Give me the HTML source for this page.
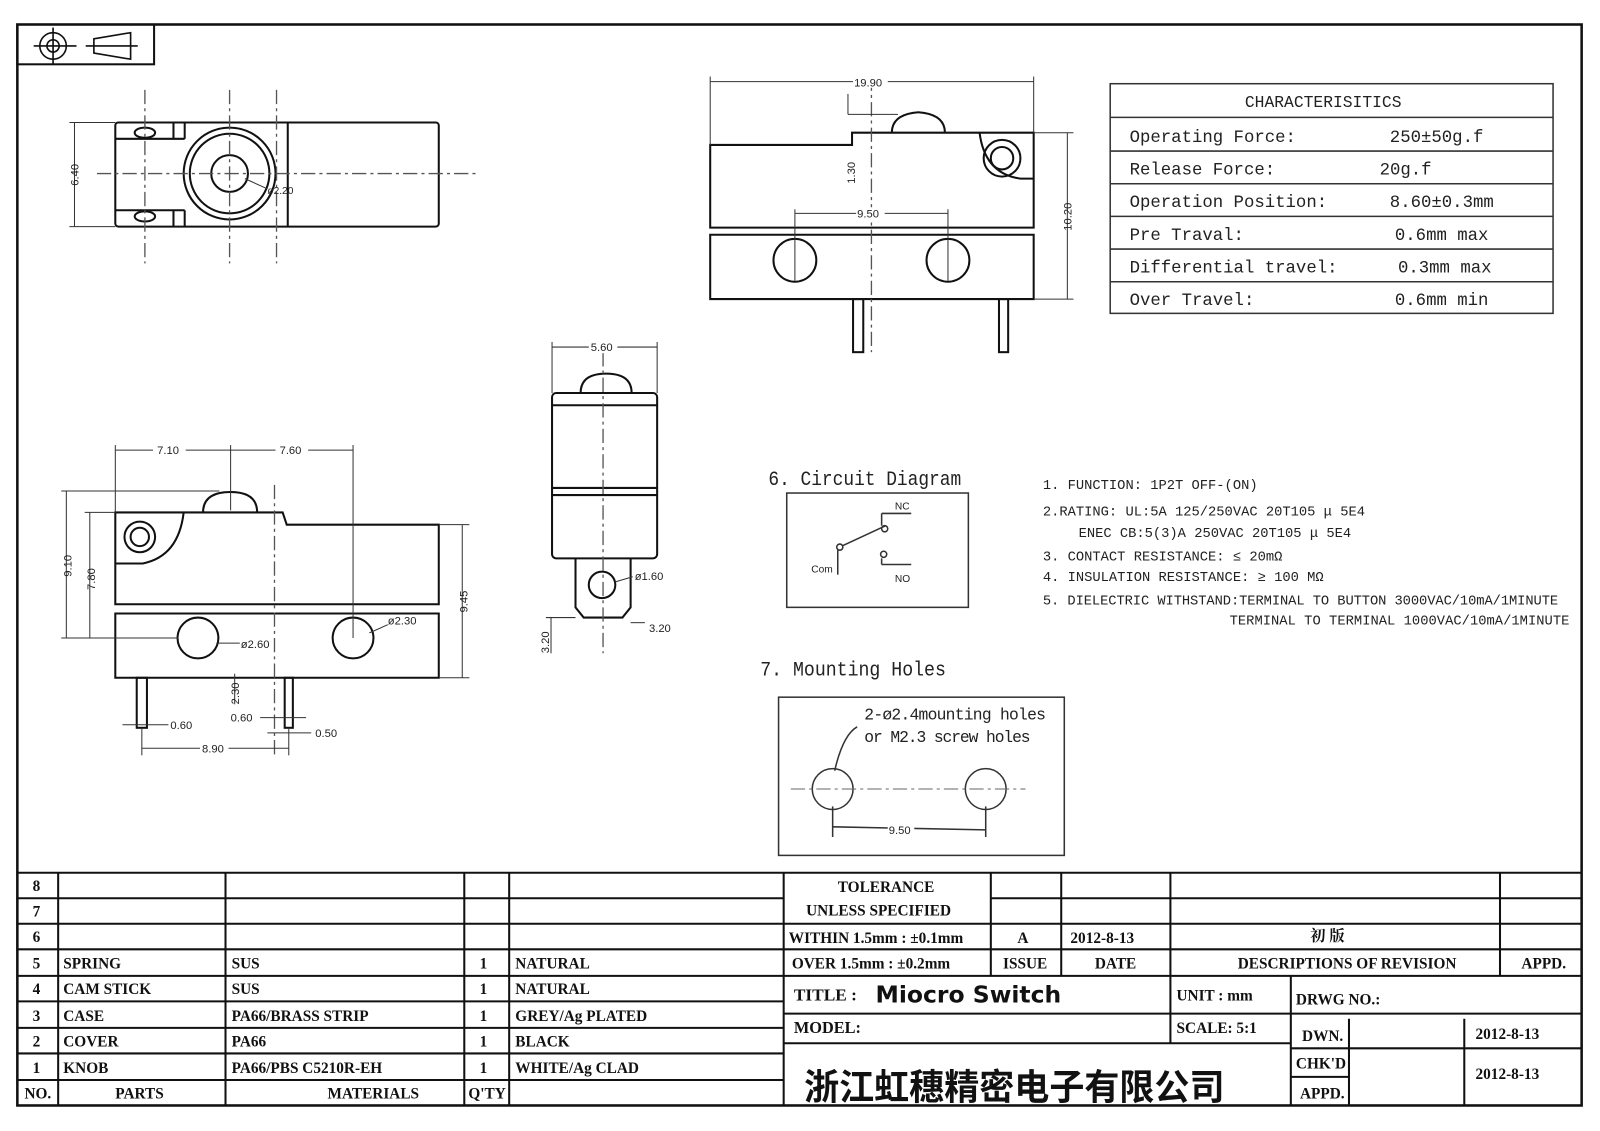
<!DOCTYPE html>
<html><head><meta charset="utf-8"><style>
html,body{margin:0;padding:0;background:#fff;}
svg{display:block;}
.t{font-family:"Liberation Serif","Noto Serif CJK SC",serif;font-weight:bold;fill:#111;}
.s{font-family:"Liberation Sans",sans-serif;fill:#222;}
.m{font-family:"Liberation Mono",monospace;fill:#222;}
</style></head><body>
<svg width="1600" height="1131" viewBox="0 0 1568 1108" preserveAspectRatio="none" xmlns="http://www.w3.org/2000/svg">
<rect width="1568" height="1108" fill="#fff"/>
<g fill="none" stroke="#111" stroke-width="2">
<rect x="17" y="24" width="1533" height="1059" stroke-width="2.5"/>
<rect x="17" y="24" width="134" height="39"/>
</g>
<g fill="none" stroke="#111" stroke-width="1.6">
<circle cx="52" cy="45" r="13"/><circle cx="52" cy="45" r="6"/>
<line x1="33" y1="45" x2="75" y2="45"/><line x1="52" y1="27" x2="52" y2="63"/>
<path d="M92 38 L128 32 L128 58 L92 52 Z"/><line x1="84" y1="45" x2="135" y2="45"/>
</g>

<!-- TOP VIEW -->
<g fill="none" stroke="#111" stroke-width="2">
<rect x="113" y="120" width="317" height="102" rx="3"/>
<line x1="282" y1="120" x2="282" y2="222"/>
<line x1="181" y1="120" x2="181" y2="136"/><line x1="113" y1="136" x2="181" y2="136"/>
<line x1="181" y1="206" x2="181" y2="222"/><line x1="113" y1="206" x2="181" y2="206"/>
<line x1="170" y1="120" x2="170" y2="136"/><line x1="170" y1="206" x2="170" y2="222"/>
<ellipse cx="142" cy="130" rx="10" ry="5"/><ellipse cx="142" cy="212" rx="10" ry="5"/>
<circle cx="225" cy="170" r="45"/><circle cx="225" cy="170" r="39"/><circle cx="225" cy="170" r="18"/>
</g>
<g stroke="#555" stroke-width="1.3" stroke-dasharray="14,4,3,4" fill="none">
<line x1="95" y1="170" x2="470" y2="170"/>
<line x1="142" y1="88" x2="142" y2="258"/><line x1="225" y1="88" x2="225" y2="258"/><line x1="271" y1="88" x2="271" y2="258"/>
</g>
<g stroke="#333" stroke-width="1" fill="none">
<line x1="73" y1="120" x2="73" y2="222"/><line x1="68" y1="120" x2="113" y2="120"/><line x1="68" y1="222" x2="113" y2="222"/>
<line x1="240" y1="175" x2="262" y2="185"/>
</g>
<text class="s" font-size="11" transform="translate(77,182) rotate(-90)">6.40</text>
<text class="s" font-size="10" x="262" y="190">ø2.20</text>

<!-- FRONT VIEW TOP RIGHT -->
<g fill="none" stroke="#111" stroke-width="2">
<path d="M696 142 L835 142 L835 130 L1013 130 L1013 223 L696 223 Z"/>
<path d="M696 230 L1013 230 L1013 293 L696 293 Z"/>
<path d="M874 130 Q874 112 900 110 Q926 112 926 130"/>
<circle cx="982" cy="155" r="18"/><circle cx="982" cy="155" r="11"/>
<path d="M960 130 Q965 170 1000 175 L1013 175"/>
<circle cx="779" cy="255" r="21"/><circle cx="929" cy="255" r="21"/>
<rect x="836" y="293" width="10" height="52"/><rect x="979" y="293" width="9" height="52"/>
</g>
<g stroke="#555" stroke-width="1.3" stroke-dasharray="14,4,3,4" fill="none"><line x1="854" y1="75" x2="854" y2="345"/></g>
<g stroke="#333" stroke-width="1" fill="none">
<line x1="696" y1="80" x2="1013" y2="80"/><line x1="696" y1="75" x2="696" y2="142"/><line x1="1013" y1="75" x2="1013" y2="130"/>
<line x1="1046" y1="130" x2="1046" y2="293"/><line x1="1013" y1="130" x2="1052" y2="130"/><line x1="1013" y1="293" x2="1052" y2="293"/>
<line x1="779" y1="209" x2="929" y2="209"/><line x1="779" y1="205" x2="779" y2="275"/><line x1="929" y1="205" x2="929" y2="275"/>
<line x1="831" y1="92" x2="831" y2="112"/><line x1="831" y1="112" x2="880" y2="112"/>
</g>
<rect x="836" y="75" width="34" height="11" fill="#fff"/><text class="s" font-size="11" x="837" y="85">19.90</text>
<rect x="839" y="203" width="28" height="11" fill="#fff"/><text class="s" font-size="11" x="840" y="213">9.50</text>
<text class="s" font-size="11" transform="translate(1050,226) rotate(-90)">10.20</text>
<text class="s" font-size="11" transform="translate(838,180) rotate(-90)">1.30</text>

<!-- CHARACTERISTICS -->
<g fill="none" stroke="#333" stroke-width="1.5">
<rect x="1088" y="82" width="434" height="225"/>
<line x1="1088" y1="115" x2="1522" y2="115"/><line x1="1088" y1="148" x2="1522" y2="148"/>
<line x1="1088" y1="180" x2="1522" y2="180"/><line x1="1088" y1="212" x2="1522" y2="212"/>
<line x1="1088" y1="244" x2="1522" y2="244"/><line x1="1088" y1="276" x2="1522" y2="276"/>
</g>
<g class="m" font-size="17">
<text x="1220" y="105" font-size="16">CHARACTERISITICS</text>
<text x="1107" y="139">Operating Force:</text><text x="1362" y="139">250±50g.f</text>
<text x="1107" y="171">Release Force:</text><text x="1352" y="171">20g.f</text>
<text x="1107" y="203">Operation Position:</text><text x="1362" y="203">8.60±0.3mm</text>
<text x="1107" y="235">Pre Traval:</text><text x="1367" y="235">0.6mm max</text>
<text x="1107" y="267">Differential travel:</text><text x="1370" y="267">0.3mm max</text>
<text x="1107" y="299">Over Travel:</text><text x="1367" y="299">0.6mm min</text>
</g>

<!-- SIDE VIEW LOWER LEFT -->
<g fill="none" stroke="#111" stroke-width="2">
<path d="M113 502 L277 502 L281 514 L430 514 L430 592 L113 592 Z"/>
<path d="M113 601 L430 601 L430 664 L113 664 Z"/>
<path d="M199 502 Q199 482 226 482 Q252 482 252 502"/>
<circle cx="137" cy="526" r="15"/><circle cx="137" cy="526" r="9"/>
<path d="M180 502 Q175 545 140 552 L113 552"/>
<circle cx="194" cy="625" r="20"/><circle cx="346" cy="625" r="20"/>
<rect x="134" y="664" width="10" height="49"/><rect x="279" y="664" width="8" height="49"/>
</g>
<g stroke="#555" stroke-width="1.3" stroke-dasharray="14,4,3,4" fill="none"><line x1="269" y1="475" x2="269" y2="740"/></g>
<g stroke="#333" stroke-width="1" fill="none">
<line x1="113" y1="441" x2="346" y2="441"/><line x1="113" y1="436" x2="113" y2="502"/><line x1="346" y1="436" x2="346" y2="625"/><line x1="226" y1="436" x2="226" y2="500"/>
<line x1="65" y1="481" x2="65" y2="625"/><line x1="60" y1="481" x2="215" y2="481"/><line x1="60" y1="625" x2="175" y2="625"/>
<line x1="88" y1="502" x2="88" y2="625"/><line x1="83" y1="502" x2="113" y2="502"/>
<line x1="453" y1="514" x2="453" y2="664"/><line x1="430" y1="514" x2="460" y2="514"/><line x1="430" y1="664" x2="460" y2="664"/>
<line x1="139" y1="733" x2="283" y2="733"/><line x1="139" y1="713" x2="139" y2="740"/><line x1="283" y1="713" x2="283" y2="740"/>
<line x1="230" y1="660" x2="230" y2="690"/><line x1="212" y1="630" x2="235" y2="630"/><line x1="362" y1="620" x2="380" y2="612"/>
<line x1="120" y1="710" x2="165" y2="710"/><line x1="255" y1="703" x2="300" y2="703"/><line x1="262" y1="718" x2="305" y2="718"/>
</g>
<g class="s" font-size="11">
<rect x="150" y="435" width="32" height="12" fill="#fff"/><text x="154" y="445">7.10</text>
<rect x="270" y="435" width="32" height="12" fill="#fff"/><text x="274" y="445">7.60</text>
<text transform="translate(70,565) rotate(-90)">9.10</text>
<text transform="translate(93,578) rotate(-90)">7.80</text>
<text transform="translate(458,600) rotate(-90)">9.45</text>
<text transform="translate(234,690) rotate(-90)">2.30</text>
<text x="236" y="635">ø2.60</text><text x="380" y="612">ø2.30</text>
<text x="167" y="714">0.60</text><text x="226" y="707">0.60</text><text x="309" y="722">0.50</text>
<rect x="196" y="728" width="28" height="11" fill="#fff"/><text x="198" y="737">8.90</text>
</g>

<!-- END VIEW -->
<g fill="none" stroke="#111" stroke-width="2">
<rect x="541" y="385" width="103" height="162" rx="4"/>
<line x1="541" y1="397" x2="644" y2="397"/><line x1="541" y1="478" x2="644" y2="478"/><line x1="541" y1="485" x2="644" y2="485"/>
<path d="M569 385 Q569 366 594 366 Q619 366 619 385"/>
<path d="M564 547 L564 595 L572 605 L610 605 L618 595 L618 547"/>
<circle cx="590" cy="573" r="13"/>
</g>
<g stroke="#555" stroke-width="1.3" stroke-dasharray="14,4,3,4" fill="none"><line x1="591" y1="345" x2="591" y2="640"/></g>
<g stroke="#333" stroke-width="1" fill="none">
<line x1="541" y1="340" x2="644" y2="340"/><line x1="541" y1="335" x2="541" y2="385"/><line x1="644" y1="335" x2="644" y2="385"/>
<line x1="540" y1="605" x2="540" y2="640"/><line x1="535" y1="605" x2="564" y2="605"/><line x1="618" y1="610" x2="632" y2="610"/><line x1="603" y1="570" x2="620" y2="565"/>
</g>
<g class="s" font-size="11">
<rect x="577" y="334" width="28" height="12" fill="#fff"/><text x="579" y="344">5.60</text>
<text x="622" y="568">ø1.60</text><text x="636" y="619">3.20</text>
<text transform="translate(538,640) rotate(-90)">3.20</text>
</g>

<!-- CIRCUIT -->
<text class="m" font-size="20" x="753" y="475" textLength="189" lengthAdjust="spacingAndGlyphs">6. Circuit Diagram</text>
<g fill="none" stroke="#333" stroke-width="1.5">
<rect x="771" y="483" width="178" height="112"/>
<circle cx="823" cy="536" r="3"/><circle cx="867" cy="518" r="3"/><circle cx="866" cy="543" r="3"/>
<line x1="825" y1="535" x2="868" y2="515"/>
<line x1="821" y1="539" x2="821" y2="563"/>
<line x1="864" y1="515" x2="864" y2="503"/><line x1="864" y1="503" x2="893" y2="503"/>
<line x1="864" y1="547" x2="864" y2="553"/><line x1="864" y1="553" x2="893" y2="553"/>
</g>
<g class="s" font-size="10"><text x="795" y="561">Com</text><text x="877" y="499">NC</text><text x="877" y="570">NO</text></g>

<!-- NOTES -->
<g class="m" font-size="13.5" fill="#333">
<text x="1022" y="479">1. FUNCTION: 1P2T OFF-(ON)</text>
<text x="1022" y="505">2.RATING: UL:5A 125/250VAC 20T105 μ 5E4</text>
<text x="1057" y="526">ENEC CB:5(3)A 250VAC 20T105 μ 5E4</text>
<text x="1022" y="549">3. CONTACT RESISTANCE: ≤ 20mΩ</text>
<text x="1022" y="569">4. INSULATION RESISTANCE: ≥ 100 MΩ</text>
<text x="1022" y="592" textLength="505">5. DIELECTRIC WITHSTAND:TERMINAL TO BUTTON 3000VAC/10mA/1MINUTE</text>
<text x="1205" y="612" textLength="333">TERMINAL TO TERMINAL 1000VAC/10mA/1MINUTE</text>
</g>

<!-- MOUNTING -->
<text class="m" font-size="20" x="745" y="662" textLength="182" lengthAdjust="spacingAndGlyphs">7. Mounting Holes</text>
<g fill="none" stroke="#333" stroke-width="1.5">
<rect x="763" y="683" width="280" height="155"/>
<circle cx="816" cy="773" r="20"/><circle cx="966" cy="773" r="20"/>
<line x1="816" y1="810" x2="966" y2="813"/><line x1="816" y1="790" x2="816" y2="820"/><line x1="966" y1="790" x2="966" y2="820"/>
<path d="M840 712 Q826 720 818 755"/>
</g>
<g stroke="#666" stroke-width="1" stroke-dasharray="14,4,3,4"><line x1="775" y1="773" x2="1005" y2="773"/></g>
<g class="m" font-size="16"><text x="847" y="705" textLength="178">2-ø2.4mounting holes</text><text x="847" y="727" textLength="163">or M2.3 screw holes</text></g>
<rect x="870" y="807" width="26" height="11" fill="#fff"/><text class="s" font-size="11" x="871" y="817">9.50</text>

<!-- TABLE -->
<g fill="none" stroke="#111" stroke-width="2">
<line x1="17" y1="855" x2="1550" y2="855"/>
<line x1="17" y1="880" x2="768" y2="880"/><line x1="17" y1="905" x2="768" y2="905"/>
<line x1="17" y1="930" x2="1550" y2="930"/><line x1="17" y1="956" x2="1550" y2="956"/>
<line x1="17" y1="981" x2="768" y2="981"/><line x1="17" y1="1007" x2="768" y2="1007"/>
<line x1="17" y1="1032" x2="768" y2="1032"/><line x1="17" y1="1058" x2="768" y2="1058"/>
<line x1="57" y1="855" x2="57" y2="1083"/><line x1="221" y1="855" x2="221" y2="1083"/>
<line x1="455" y1="855" x2="455" y2="1083"/><line x1="499" y1="855" x2="499" y2="1083"/>
<line x1="768" y1="855" x2="768" y2="1083"/>
<line x1="971" y1="880" x2="1550" y2="880"/><line x1="768" y1="905" x2="1550" y2="905"/>
<line x1="971" y1="855" x2="971" y2="956"/><line x1="1040" y1="855" x2="1040" y2="956"/>
<line x1="1147" y1="855" x2="1147" y2="956"/><line x1="1470" y1="855" x2="1470" y2="956"/>
<line x1="768" y1="993" x2="1550" y2="993"/><line x1="768" y1="1022" x2="1265" y2="1022"/>
<line x1="1147" y1="956" x2="1147" y2="1022"/><line x1="1265" y1="956" x2="1265" y2="1083"/>
<line x1="1265" y1="1027" x2="1550" y2="1027"/><line x1="1265" y1="1055" x2="1322" y2="1055"/>
<line x1="1322" y1="998" x2="1322" y2="1083"/><line x1="1435" y1="998" x2="1435" y2="1083"/>
</g>
<g class="t" font-size="15">
<text x="32" y="873">8</text><text x="32" y="898">7</text><text x="32" y="923">6</text>
<text x="32" y="949">5</text><text x="62" y="949">SPRING</text><text x="227" y="949">SUS</text><text x="470" y="949">1</text><text x="505" y="949">NATURAL</text>
<text x="32" y="974">4</text><text x="62" y="974">CAM STICK</text><text x="227" y="974">SUS</text><text x="470" y="974">1</text><text x="505" y="974">NATURAL</text>
<text x="32" y="1000">3</text><text x="62" y="1000">CASE</text><text x="227" y="1000">PA66/BRASS STRIP</text><text x="470" y="1000">1</text><text x="505" y="1000">GREY/Ag PLATED</text>
<text x="32" y="1025">2</text><text x="62" y="1025">COVER</text><text x="227" y="1025">PA66</text><text x="470" y="1025">1</text><text x="505" y="1025">BLACK</text>
<text x="32" y="1051">1</text><text x="62" y="1051">KNOB</text><text x="227" y="1051">PA66/PBS C5210R-EH</text><text x="470" y="1051">1</text><text x="505" y="1051">WHITE/Ag CLAD</text>
<text x="24" y="1076">NO.</text><text x="113" y="1076">PARTS</text><text x="321" y="1076">MATERIALS</text><text x="459" y="1076">Q'TY</text>
<text x="821" y="874">TOLERANCE</text><text x="790" y="897">UNLESS  SPECIFIED</text>
<text x="773" y="924">WITHIN 1.5mm : ±0.1mm</text><text x="776" y="949">OVER 1.5mm : ±0.2mm</text>
<text x="997" y="924">A</text><text x="1049" y="924">2012-8-13</text><text x="1284" y="922">初  版</text>
<text x="983" y="949">ISSUE</text><text x="1073" y="949">DATE</text><text x="1213" y="949">DESCRIPTIONS OF REVISION</text><text x="1491" y="949">APPD.</text>
<text x="778" y="980" font-size="17">TITLE :</text>
<text x="1153" y="980">UNIT :  mm</text><text x="1270" y="984">DRWG NO.:</text>
<text x="778" y="1012" font-size="16">MODEL:</text><text x="1153" y="1012">SCALE:  5:1</text>
<text x="1276" y="1020">DWN.</text><text x="1446" y="1018">2012-8-13</text>
<text x="1270" y="1047">CHK'D</text><text x="1446" y="1057">2012-8-13</text><text x="1274" y="1076">APPD.</text>
</g>
<text x="858" y="982" font-family="'DejaVu Sans','Liberation Sans',sans-serif" font-size="23" font-weight="bold" fill="#111">Miocro Switch</text>
<text x="788" y="1077" font-family="'Liberation Sans','Noto Sans CJK SC',sans-serif" font-size="35" font-weight="bold" fill="#111" textLength="412" lengthAdjust="spacingAndGlyphs">浙江虹穗精密电子有限公司</text>
</svg>
</body></html>
